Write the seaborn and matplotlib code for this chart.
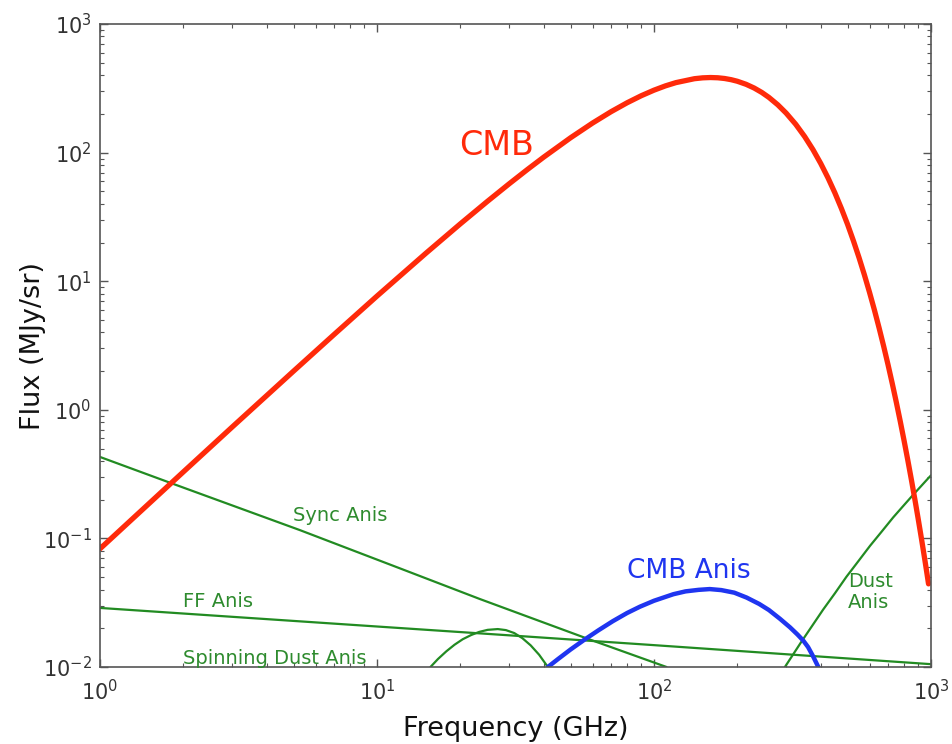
import numpy as np
import pandas as pd
import matplotlib
matplotlib.use("Agg")
import matplotlib.pyplot as plt
import seaborn as sns

# ---- data (GHz, MJy/sr) ----
cmb_freq = [1, 2, 3, 5, 7, 10, 15, 20, 25, 30, 35, 40, 50, 60, 70, 80, 90, 100,
            110, 120, 140, 150, 160, 170, 180, 190, 200, 215, 230, 245, 260,
            280, 300, 325, 350, 375, 400, 425, 450, 475, 500, 525, 550, 575,
            600, 625, 650, 675, 700, 725, 750, 775, 800, 825, 850, 875, 900,
            925, 950, 965, 980]
cmb_flux = [0.0830, 0.329, 0.734, 2.00, 3.85, 7.66, 16.46, 27.94, 41.65, 57.18,
            74.18, 92.26, 130.5, 169.7, 208.1, 244.2, 277.1, 305.9, 330.4,
            350.2, 375.7, 381.6, 383.7, 382.0, 377.0, 369.1, 358.9, 339.9,
            317.9, 293.9, 268.8, 235.3, 203.0, 166.0, 133.3, 105.5, 82.35,
            63.59, 48.61, 36.78, 27.66, 20.59, 15.24, 11.21, 8.198, 5.971,
            4.322, 3.117, 2.239, 1.600, 1.141, 0.8107, 0.5737, 0.4052, 0.2854,
            0.2005, 0.1404, 0.0982, 0.0685, 0.0551, 0.0443]

anis_freq = [41.4, 45, 50, 56, 63, 71, 80, 89, 100, 117.5, 130, 145, 159, 175,
             195, 216, 240, 260, 285, 310, 330, 346, 360, 375, 392]
anis_flux = [0.01000, 0.01151, 0.01368, 0.01626, 0.01928, 0.02270, 0.02630,
             0.02944, 0.03273, 0.03681, 0.03873, 0.03981, 0.04036, 0.03963,
             0.03784, 0.03467, 0.03090, 0.02773, 0.02371, 0.02032, 0.01786,
             0.01603, 0.01429, 0.01216, 0.01000]

sync_freq = [1, 1.79, 5.27, 12.1, 23.5, 57.1, 111]
sync_flux = [0.43, 0.271, 0.116, 0.0585, 0.0338, 0.0167, 0.0100]

ff_freq = [1, 3.16, 10, 31.6, 100, 316, 1000]
ff_flux = [0.0288, 0.02438, 0.02065, 0.0175, 0.01479, 0.01247, 0.01052]

spin_freq = [15.6, 16.6, 17.8, 19.05, 20.4, 21.9, 23.4, 25.1, 27.3, 29.2, 31.3,
             33.5, 35.9, 38.5, 41.4]
spin_flux = [0.01000, 0.01153, 0.01324, 0.01489, 0.01644, 0.01774, 0.01875,
             0.01945, 0.01972, 0.01936, 0.01837, 0.01675, 0.01472, 0.01245,
             0.01000]

dust_freq = [297, 316, 341, 373, 408, 450, 495, 546, 603, 664, 731, 794, 863,
             918, 977, 1000]
dust_flux = [0.0100, 0.01227, 0.01578, 0.02099, 0.02793, 0.03741, 0.05023,
             0.06622, 0.0877, 0.1130, 0.1459, 0.1786, 0.2188, 0.2529, 0.2931,
             0.3090]

RED = "#ff2a0a"
BLUE = "#1f35f0"
GREEN = "#228b22"
TGREEN = "#2e8b2e"

sns.set_style("ticks", {"xtick.direction": "in", "ytick.direction": "in",
                        "axes.edgecolor": "#555555", "xtick.color": "#555555",
                        "ytick.color": "#555555"})
plt.rcParams["font.family"] = ["DejaVu Sans"]

fig = plt.figure(figsize=(9.52, 7.44), dpi=100)
ax = fig.add_axes([0.1050, 0.1035, 0.8729, 0.8642])
ax.set_xscale("log")
ax.set_yscale("log")

def draw(fx, fy, color, lw):
    df = pd.DataFrame({"f": fx, "s": fy})
    sns.lineplot(data=df, x="f", y="s", ax=ax, color=color, linewidth=lw,
                 estimator=None, sort=False)

draw(sync_freq, sync_flux, GREEN, 1.6)
draw(ff_freq, ff_flux, GREEN, 1.6)
draw(spin_freq, spin_flux, GREEN, 1.6)
draw(dust_freq, dust_flux, GREEN, 1.6)
draw(anis_freq, anis_flux, BLUE, 3.2)
draw(cmb_freq, cmb_flux, RED, 3.8)

ax.set_xlim(1, 1000)
ax.set_ylim(0.01, 1000)

ax.tick_params(which="both", top=True, right=True, labelcolor="#333333",
               labelsize=15)
ax.tick_params(axis="x", which="major", pad=9)
ax.tick_params(axis="y", which="major", pad=6)
ax.tick_params(which="major", length=6, width=1)
ax.tick_params(which="minor", length=3, width=0.8)
for sp in ax.spines.values():
    sp.set_linewidth(1.2)

ax.set_xlabel("Frequency (GHz)", fontsize=19.5, color="#111111", labelpad=8)
ax.set_ylabel("Flux (MJy/sr)", fontsize=19.5, color="#111111", labelpad=-2)

ax.text(27.0, 95.8, "CMB", color=RED, fontsize=24, ha="center", va="baseline")
ax.text(133.7, 0.0492, "CMB Anis", color=BLUE, fontsize=19, ha="center", va="baseline")
ax.text(4.97, 0.137, "Sync Anis", color=TGREEN, fontsize=14, ha="left", va="baseline")
ax.text(1.99, 0.0291, "FF Anis", color=TGREEN, fontsize=14, ha="left", va="baseline")
ax.text(1.99, 0.0105, "Spinning Dust Anis", color=TGREEN, fontsize=14, ha="left", va="baseline")
ax.text(502, 0.0286, "Dust\nAnis", color=TGREEN, fontsize=14, ha="left", va="baseline",
        linespacing=1.15)

fig.savefig("out.png", dpi=100)
